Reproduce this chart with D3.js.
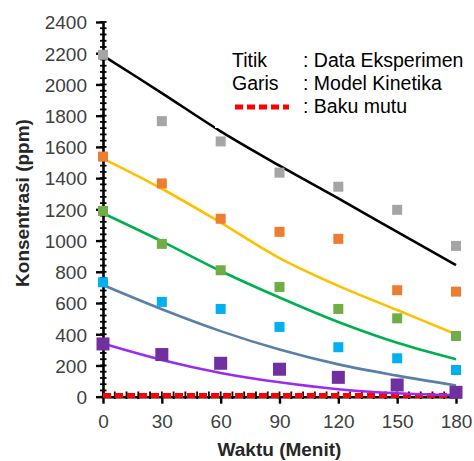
<!DOCTYPE html>
<html lang="id">
<head>
<meta charset="UTF-8">
<title>Konsentrasi vs Waktu</title>
<style>
  body { margin: 0; background: #fff; }
  svg { display: block; font-family: Arial, "Liberation Sans", sans-serif; }
</style>
</head>
<body>
<div id="chart"></div>
<script src="https://cdn.jsdelivr.net/npm/d3@7"></script>
<script>
// waktu (menit)
var waktu = [0, 30, 60, 90, 120, 150, 180];

// titik: data eksperimen
var dataAbu = [2190, 1765, 1635, 1435, 1345, 1197, 966];
var dataOranye = [1538, 1366, 1140, 1056, 1011, 682, 673];
var dataHijau = [1190, 979, 810, 703, 562, 502, 389];
var dataBiru = [733, 607, 562, 447, 317, 246, 171];
var dataUngu = [338, 270, 214, 176, 124, 75, 28];

// garis: model kinetika
var modelHitam = [2185, 1945, 1700, 1480, 1270, 1055, 843];
var modelKuning = [1525, 1332, 1115, 888, 710, 555, 400];
var modelHijau = [1175, 995, 805, 635, 478, 345, 240];
var modelBiru = [715, 560, 420, 302, 207, 135, 72];
var modelUngu = [340, 235, 152, 92, 48, 22, 10];

// baku mutu
var bakuMutu = [8, 8];
var bakuWaktu = [0, 180];

var yTicks = [0, 200, 400, 600, 800, 1000, 1200, 1400, 1600, 1800, 2000, 2200, 2400];
var xTicks = [0, 30, 60, 90, 120, 150, 180];

var legendRows = ["Titik", "Garis", ""];
var legendText = [": Data Eksperimen", ": Model Kinetika", ": Baku mutu"];

var width = 474, height = 461;

var x = d3.scaleLinear().domain([0, 180]).range([103, 456]);
var y = d3.scaleLinear().domain([0, 2400]).range([396.7, 22]);

var svg = d3.select("#chart").append("svg")
    .attr("width", width)
    .attr("height", height);

svg.append("rect").attr("width", width).attr("height", height).attr("fill", "#fff");

// minor ticks
svg.append("g").selectAll("line")
    .data(d3.range(0, 2401, 40))
    .enter().append("line")
    .attr("x1", 100).attr("x2", 106.5)
    .attr("y1", function(d) { return y(d); })
    .attr("y2", function(d) { return y(d); })
    .attr("stroke", "#000").attr("stroke-width", 1.8);

svg.append("g").selectAll("line")
    .data(d3.range(0, 181, 6))
    .enter().append("line")
    .attr("x1", function(d) { return x(d); })
    .attr("x2", function(d) { return x(d); })
    .attr("y1", 391.5).attr("y2", 399)
    .attr("stroke", "#000").attr("stroke-width", 1.8);

// axes
var yAxis = svg.append("g")
    .attr("transform", "translate(" + x(0) + ",0)")
    .call(d3.axisLeft(y).tickValues(yTicks).tickFormat(d3.format("d"))
        .tickSize(7).tickPadding(9).tickSizeOuter(0));

var xAxis = svg.append("g")
    .attr("transform", "translate(0," + y(0) + ")")
    .call(d3.axisBottom(x).tickValues(xTicks).tickFormat(d3.format("d"))
        .tickSize(7).tickPadding(11).tickSizeOuter(0));

[yAxis, xAxis].forEach(function(a) {
    a.select(".domain").attr("stroke", "#000").attr("stroke-width", 2.6);
    a.selectAll(".tick line").attr("stroke", "#000").attr("stroke-width", 2.4);
    a.selectAll(".tick text")
        .attr("fill", "#404040")
        .style("font-size", "19px")
        .style("font-family", "Arial, 'Liberation Sans', sans-serif");
});
yAxis.selectAll(".tick text").attr("dy", "0.36em");

// baku mutu (red dotted)
var lineBaku = d3.line()
    .x(function(d, i) { return x(bakuWaktu[i]); })
    .y(function(d) { return y(d); });

svg.append("path")
    .datum(bakuMutu)
    .attr("fill", "none")
    .attr("stroke", "#ff0000")
    .attr("stroke-width", 5)
    .attr("stroke-dasharray", "8,4")
    .attr("d", lineBaku);

// model lines
var model = d3.line()
    .curve(d3.curveCatmullRom.alpha(0.5))
    .x(function(d, i) { return x(waktu[i]); })
    .y(function(d) { return y(d); });

var garis = [
    { v: modelUngu, c: "#9a2cf0" },
    { v: modelBiru, c: "#5a7fa8" },
    { v: modelHijau, c: "#00b050" },
    { v: modelKuning, c: "#ffc000" },
    { v: modelHitam, c: "#000000" }
];

svg.append("g").selectAll("path")
    .data(garis)
    .enter().append("path")
    .attr("fill", "none")
    .attr("stroke", function(d) { return d.c; })
    .attr("stroke-width", 2.6)
    .attr("d", function(d) { return model(d.v); });

// legend box covers the line a little, like the original
svg.append("rect")
    .attr("x", 215).attr("y", 20)
    .attr("width", 259).attr("height", 108)
    .attr("fill", "#fff");

// experimental points
var titik = [
    { v: dataAbu, c: "#a5a5a5", s: 10 },
    { v: dataOranye, c: "#ed7d31", s: 10 },
    { v: dataHijau, c: "#70ad47", s: 10 },
    { v: dataBiru, c: "#00b0f0", s: 10 },
    { v: dataUngu, c: "#7030a0", s: 13 }
];

titik.forEach(function(seri) {
    svg.append("g").selectAll("rect")
        .data(seri.v)
        .enter().append("rect")
        .attr("x", function(d, i) { return x(waktu[i]) - seri.s / 2; })
        .attr("y", function(d) { return y(d) - seri.s / 2; })
        .attr("width", seri.s)
        .attr("height", seri.s)
        .attr("fill", seri.c);
});

// axis titles
svg.append("text")
    .attr("x", x(90))
    .attr("y", 456)
    .attr("text-anchor", "middle")
    .style("font-size", "19px")
    .style("font-weight", "bold")
    .attr("fill", "#262626")
    .text("Waktu (Menit)");

svg.append("text")
    .attr("transform", "translate(29,203) rotate(-90)")
    .attr("text-anchor", "middle")
    .style("font-size", "19px")
    .style("font-weight", "bold")
    .attr("fill", "#262626")
    .text("Konsentrasi (ppm)");

// legend
var leg = svg.append("g");
leg.selectAll("text.lab")
    .data(legendRows)
    .enter().append("text")
    .attr("class", "lab")
    .attr("x", 232)
    .attr("y", function(d, i) { return 66.5 + i * 23.3; })
    .style("font-size", "19.5px")
    .attr("fill", "#000")
    .text(function(d) { return d; });

leg.selectAll("text.isi")
    .data(legendText)
    .enter().append("text")
    .attr("class", "isi")
    .attr("x", 303)
    .attr("y", function(d, i) { return 66.5 + i * 23.3; })
    .style("font-size", "19.5px")
    .attr("fill", "#000")
    .text(function(d) { return d; });

leg.append("line")
    .attr("x1", 235).attr("x2", 289)
    .attr("y1", 107).attr("y2", 107)
    .attr("stroke", "#ff0000")
    .attr("stroke-width", 5)
    .attr("stroke-dasharray", "8,4");
</script>
</body>
</html>
